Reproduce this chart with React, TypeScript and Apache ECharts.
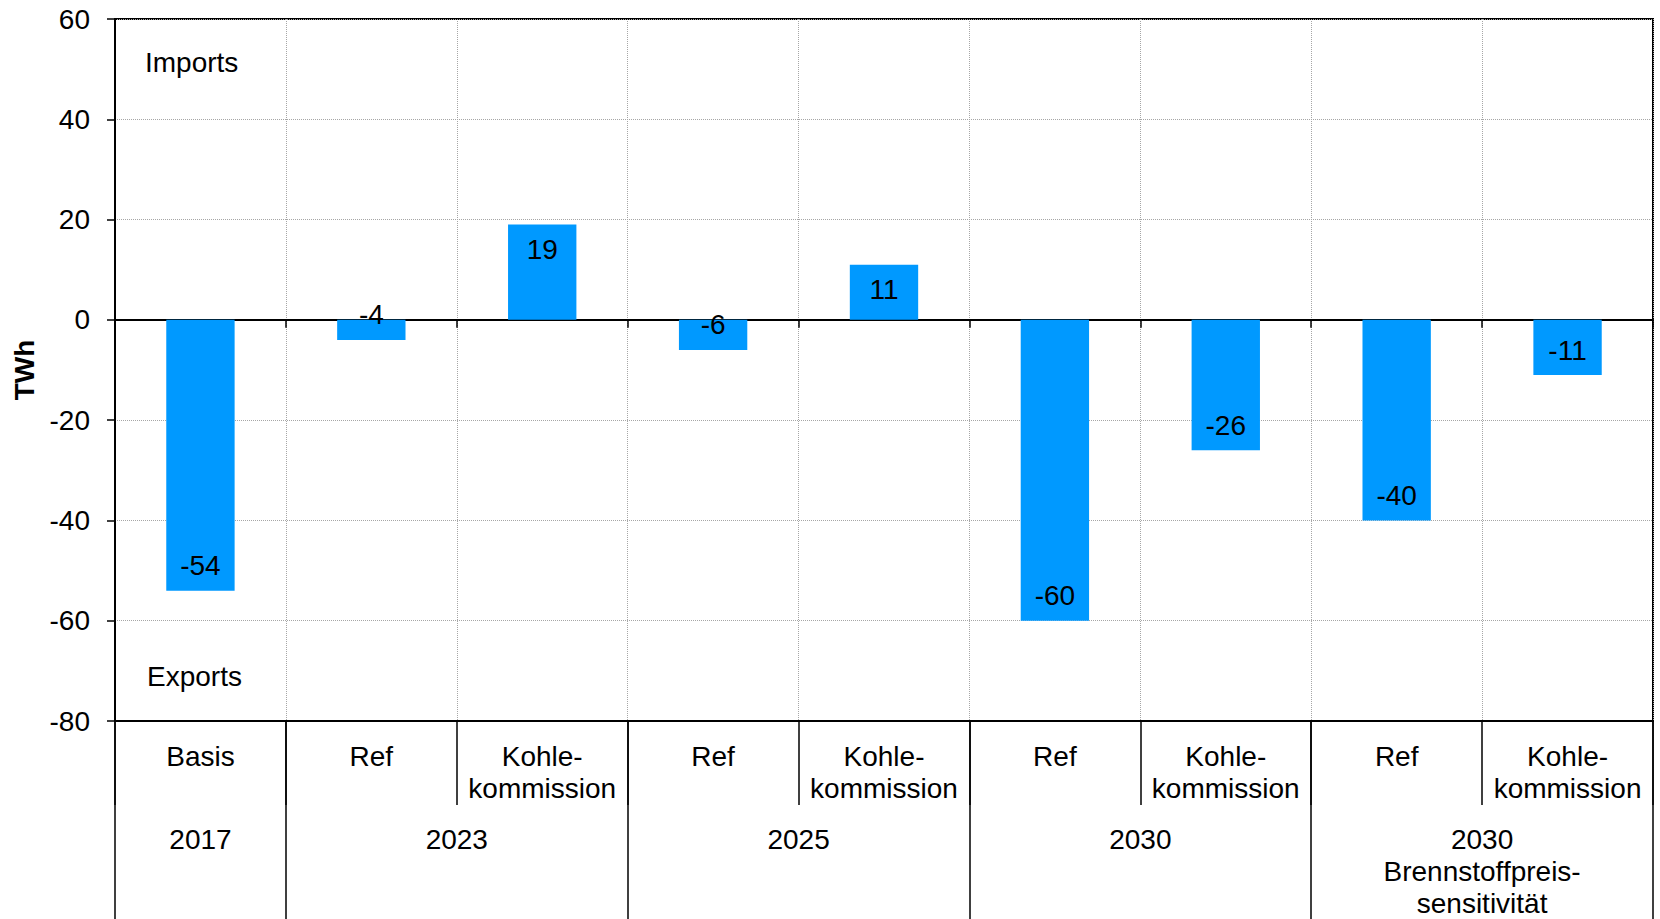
import React, { useEffect, useRef } from "react";
import * as echarts from "echarts";

// Scenario columns (lower axis row) and net trade balance in TWh
const scenarioLabels = [
  "Basis",
  "Ref",
  "Kohle-\nkommission",
  "Ref",
  "Kohle-\nkommission",
  "Ref",
  "Kohle-\nkommission",
  "Ref",
  "Kohle-\nkommission",
];
const balanceTWh = [-54, -4, 19, -6, 11, -60, -26, -40, -11];

// Year groups (upper axis row) and how many scenario columns each spans
const groupLabels = ["2017", "2023", "2025", "2030", "2030\nBrennstoffpreis-\nsensitivität"];
const groupSpans = [1, 2, 2, 2, 2];

// Value axis ticks
const yMin = -80;
const yMax = 60;
const yStep = 20;

const FONT = "'Liberation Sans', Arial, sans-serif";
const FONT_SIZE = 28;
const BAR_COLOR = "#0099FF";

export default function App() {
  const ref = useRef<HTMLDivElement>(null);

  useEffect(() => {
    document.body.style.margin = "0";
    if (!ref.current) return;
    const chart = echarts.init(ref.current, undefined, { renderer: "svg" });

    // boundaries and centres of the year groups along the scenario index
    const boundaries: number[] = [0];
    const centres: number[] = [];
    groupSpans.forEach((s) => {
      const start = boundaries[boundaries.length - 1];
      centres.push(start + s / 2);
      boundaries.push(start + s);
    });

    const grid = "#a6a6a6";

    chart.setOption({
      animation: false,
      textStyle: { fontFamily: FONT },
      grid: {
        left: 115,
        right: 7,
        top: 19,
        bottom: 198,
        show: true,
        borderColor: "#000",
        borderWidth: 2,
        backgroundColor: "transparent",
      },
      xAxis: [
        {
          type: "category",
          data: scenarioLabels,
          position: "bottom",
          axisLine: { onZero: false, lineStyle: { color: "#000", width: 2 } },
          axisTick: { show: true, length: 84, interval: 0, lineStyle: { color: "#000", width: 1.5 } },
          axisLabel: {
            interval: 0,
            color: "#000",
            fontSize: FONT_SIZE,
            lineHeight: 32,
            margin: 19,
            fontFamily: FONT,
          },
          splitLine: { show: true, interval: 0, lineStyle: { color: grid, type: "dotted", width: 1 } },
        },
        {
          type: "value",
          min: 0,
          max: scenarioLabels.length,
          position: "bottom",
          axisLine: { show: false, onZero: false },
          axisTick: {
            show: true,
            length: 198,
            customValues: boundaries,
            lineStyle: { color: "#000", width: 1.5 },
          },
          axisLabel: {
            show: true,
            customValues: centres,
            color: "#000",
            fontSize: FONT_SIZE,
            lineHeight: 32,
            margin: 102,
            fontFamily: FONT,
            formatter: (v: number) => {
              const i = centres.findIndex((c) => Math.abs(c - v) < 1e-6);
              return i >= 0 ? groupLabels[i] : "";
            },
          },
          splitLine: { show: false },
        },
        {
          type: "category",
          data: scenarioLabels,
          position: "bottom",
          axisLine: { onZero: true, lineStyle: { color: "#000", width: 2 } },
          axisTick: { show: true, length: 8, interval: 0, lineStyle: { color: "#000", width: 1.5 } },
          axisLabel: { show: false },
          splitLine: { show: false },
        },
      ],
      yAxis: {
        type: "value",
        min: yMin,
        max: yMax,
        interval: yStep,
        name: "TWh",
        nameLocation: "middle",
        nameGap: 76,
        nameTextStyle: { color: "#000", fontSize: FONT_SIZE, fontWeight: "bold", fontFamily: FONT },
        axisLine: { show: true, lineStyle: { color: "#000", width: 2 } },
        axisTick: { show: true, length: 8, lineStyle: { color: "#000", width: 1.5 } },
        axisLabel: { color: "#000", fontSize: FONT_SIZE, margin: 25, fontFamily: FONT },
        splitLine: { show: true, lineStyle: { color: grid, type: "dotted", width: 1 } },
      },
      graphic: [
        {
          type: "text",
          left: 145,
          top: 48,
          style: { text: "Imports", fill: "#000", fontSize: FONT_SIZE, fontFamily: FONT },
        },
        {
          type: "text",
          left: 147,
          top: 662,
          style: { text: "Exports", fill: "#000", fontSize: FONT_SIZE, fontFamily: FONT },
        },
      ],
      series: [
        {
          type: "bar",
          xAxisIndex: 0,
          barWidth: "40%",
          itemStyle: { color: BAR_COLOR },
          data: balanceTWh.map((v) => ({
            value: v,
            label: { position: v >= 0 ? "insideTop" : "insideBottom" },
          })),
          label: {
            show: true,
            distance: 11,
            color: "#000",
            fontSize: FONT_SIZE,
            fontFamily: FONT,
          },
          z: 3,
        },
      ],
    });

    return () => chart.dispose();
  }, []);

  return <div ref={ref} style={{ width: 1660, height: 919 }} />;
}
